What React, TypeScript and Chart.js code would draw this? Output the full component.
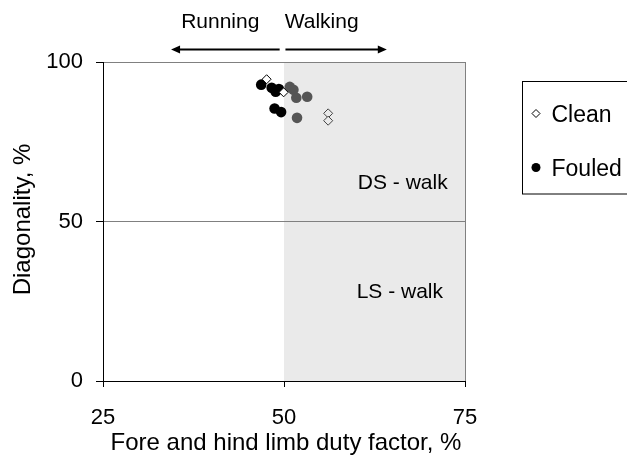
import React, { useEffect, useRef } from 'react';
import { Chart, registerables } from 'chart.js';

Chart.register(...registerables);

// Data
const cleanX = [47.6, 49.95, 56.1, 56.1];
const cleanY = [94.6, 90.5, 83.9, 81.6];
const fouledX = [46.85, 48.3, 48.85, 49.3, 48.7, 49.6, 50.8, 51.3, 51.7, 53.2, 51.8];
const fouledY = [92.9, 91.9, 90.7, 91.5, 85.4, 84.3, 92.2, 91.3, 88.8, 89.1, 82.5];
const xTicks = [25, 50, 75];
const yTicks = [0, 50, 100];
const seriesNames = ['Clean', 'Fouled'];
const regionLabels = ['DS - walk', 'LS - walk'];
const gaitLabels = ['Running', 'Walking'];
const xTitle = 'Fore and hind limb duty factor, %';
const yTitle = 'Diagonality, %';

const FONT = '"Liberation Sans", Arial, sans-serif';
const SHADE = '#eaeaea';

const overlayPlugin = {
  id: 'overlay',
  beforeDraw(chart: any) {
    const { ctx, scales } = chart;
    const x = scales.x;
    const y = scales.y;
    const l = x.getPixelForValue(50);
    const r = x.getPixelForValue(75);
    const t = y.getPixelForValue(100);
    const b = y.getPixelForValue(0);
    ctx.save();
    ctx.fillStyle = SHADE;
    ctx.fillRect(l, t, r - l, b - t);
    ctx.restore();
  },
  afterDraw(chart: any) {
    const { ctx, scales, chartArea } = chart;
    const x = scales.x;
    const y = scales.y;
    ctx.save();
    ctx.fillStyle = '#000';
    ctx.strokeStyle = '#000';

    // Region labels
    ctx.font = `21px ${FONT}`;
    ctx.textAlign = 'center';
    ctx.textBaseline = 'alphabetic';
    ctx.fillText(regionLabels[0], x.getPixelForValue(66.4), y.getPixelForValue(60.1));
    ctx.fillText(regionLabels[1], x.getPixelForValue(66.0), y.getPixelForValue(25.9));

    // Gait labels and arrows
    ctx.font = `21px ${FONT}`;
    ctx.textAlign = 'right';
    ctx.fillText(gaitLabels[0], x.getPixelForValue(46.6), 27.5);
    ctx.textAlign = 'left';
    ctx.fillText(gaitLabels[1], x.getPixelForValue(50.1), 27.5);

    const ay = 49.5;
    const arrow = (from: number, to: number) => {
      const fx = x.getPixelForValue(from);
      const tx = x.getPixelForValue(to);
      const dir = Math.sign(tx - fx);
      ctx.lineWidth = 2;
      ctx.beginPath();
      ctx.moveTo(fx, ay);
      ctx.lineTo(tx - dir * 8, ay);
      ctx.stroke();
      ctx.beginPath();
      ctx.moveTo(tx, ay);
      ctx.lineTo(tx - dir * 9, ay - 4);
      ctx.lineTo(tx - dir * 9, ay + 4);
      ctx.closePath();
      ctx.fill();
    };
    arrow(49.4, 34.4);
    arrow(50.2, 64.2);

    // Axis titles
    ctx.font = `24px ${FONT}`;
    ctx.textAlign = 'center';
    ctx.textBaseline = 'alphabetic';
    ctx.fillText(xTitle, (chartArea.left + chartArea.right) / 2 + 2, 450);
    ctx.save();
    ctx.translate(30, y.getPixelForValue(50) - 2);
    ctx.rotate(-Math.PI / 2);
    ctx.fillText(yTitle, 0, 0);
    ctx.restore();

    // Legend
    ctx.lineWidth = 1;
    ctx.strokeStyle = '#000';
    ctx.strokeRect(522.5, 81.5, 130, 112.5);
    const dx = 536, dy1 = 113.5, dy2 = 167.5;
    ctx.beginPath();
    ctx.moveTo(dx, dy1 - 4);
    ctx.lineTo(dx + 4, dy1);
    ctx.lineTo(dx, dy1 + 4);
    ctx.lineTo(dx - 4, dy1);
    ctx.closePath();
    ctx.fillStyle = '#fff';
    ctx.fill();
    ctx.stroke();
    ctx.beginPath();
    ctx.arc(dx, dy2, 4.5, 0, Math.PI * 2);
    ctx.fillStyle = '#000';
    ctx.fill();
    ctx.font = `23px ${FONT}`;
    ctx.textAlign = 'left';
    ctx.fillText(seriesNames[0], 551.5, 121.5);
    ctx.fillText(seriesNames[1], 551.5, 175.5);
    ctx.restore();
  },
};

export default function App() {
  const canvasRef = useRef<HTMLCanvasElement | null>(null);

  useEffect(() => {
    if (!canvasRef.current) return;
    const clean = cleanX.map((v, i) => ({ x: v, y: cleanY[i] }));
    const fouled = fouledX.map((v, i) => ({ x: v, y: fouledY[i] }));
    const chart = new Chart(canvasRef.current, {
      type: 'scatter',
      data: {
        datasets: [
          {
            label: seriesNames[0],
            data: clean,
            order: 1,
            pointStyle: 'rectRot',
            pointRadius: 4.5,
            borderWidth: 1,
            backgroundColor: (c: any) => (c.raw && c.raw.x > 50 ? SHADE : '#ffffff'),
            borderColor: (c: any) => (c.raw && c.raw.x > 50 ? '#444444' : '#000000'),
          },
          {
            label: seriesNames[1],
            data: fouled,
            order: 2,
            pointStyle: 'circle',
            pointRadius: 5.3,
            borderWidth: 0,
            backgroundColor: (c: any) => (c.raw && c.raw.x > 50 ? '#555555' : '#000000'),
            borderColor: (c: any) => (c.raw && c.raw.x > 50 ? '#555555' : '#000000'),
          },
        ],
      },
      options: {
        responsive: false,
        animation: false,
        events: [],
        layout: { padding: { top: 62, right: 162, left: 0, bottom: 0 } },
        plugins: {
          legend: { display: false },
          tooltip: { enabled: false },
          title: { display: false },
        },
        scales: {
          x: {
            type: 'linear',
            min: 25,
            max: 75,
            afterFit: (s: any) => {
              s.height = 85;
            },
            afterBuildTicks: (s: any) => {
              s.ticks = xTicks.map((v) => ({ value: v }));
            },
            ticks: {
              color: '#000',
              font: { family: FONT, size: 22 },
              padding: 18,
              maxRotation: 0,
            },
            grid: {
              drawOnChartArea: true,
              color: (c: any) => (c.tick && c.tick.value === 75 ? '#808080' : 'rgba(0,0,0,0)'),
              tickColor: '#000',
              tickLength: 6,
              lineWidth: 1,
            },
            border: { display: true, color: '#000', width: 1 },
          },
          y: {
            type: 'linear',
            min: 0,
            max: 100,
            afterFit: (s: any) => {
              s.width = 103;
            },
            afterBuildTicks: (s: any) => {
              s.ticks = yTicks.map((v) => ({ value: v }));
            },
            ticks: {
              color: '#000',
              font: { family: FONT, size: 22 },
              padding: 13,
            },
            grid: {
              drawOnChartArea: true,
              color: (c: any) => (c.tick && c.tick.value > 0 ? '#808080' : 'rgba(0,0,0,0)'),
              tickColor: '#000',
              tickLength: 7,
              lineWidth: 1,
            },
            border: { display: true, color: '#000', width: 1 },
          },
        },
      },
      plugins: [overlayPlugin],
    });
    return () => chart.destroy();
  }, []);

  return (
    <div style={{ position: 'absolute', left: 0, top: 0, width: 627, height: 466, background: '#fff' }}>
      <canvas ref={canvasRef} width={627} height={466} style={{ display: 'block' }} />
    </div>
  );
}
